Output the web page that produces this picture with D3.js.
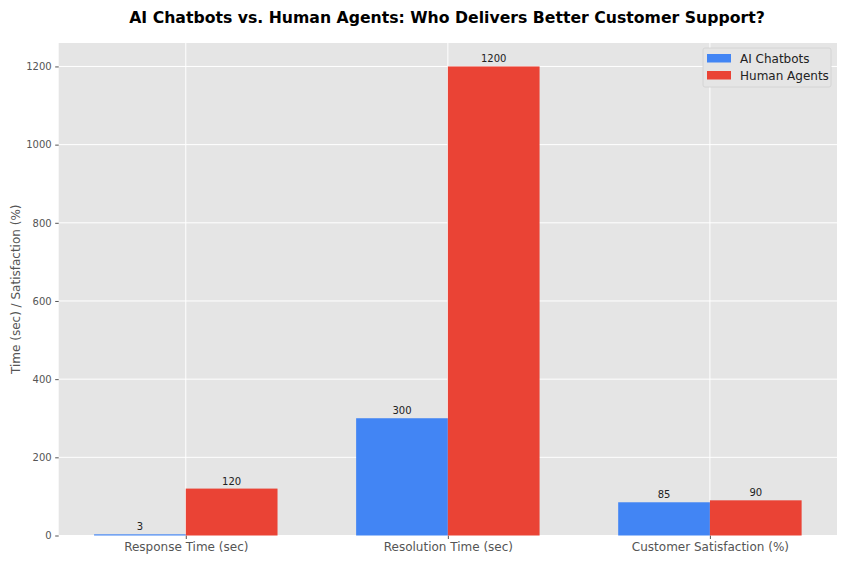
<!DOCTYPE html>
<html>
<head>
<meta charset="utf-8">
<script src="https://cdn.jsdelivr.net/npm/d3@7"></script>
<style>
  body { margin: 0; background: #fff; }
  text { font-family: "DejaVu Sans", sans-serif; }
</style>
</head>
<body>
<script>
const w = 848;
const h = 565;

const categories = ["Response Time (sec)", "Resolution Time (sec)", "Customer Satisfaction (%)"];
const seriesNames = ["AI Chatbots", "Human Agents"];
const aiValues = [3, 300, 85];
const humanValues = [120, 1200, 90];
const yTicks = [0, 200, 400, 600, 800, 1000, 1200];
const colours = ["#4285F4", "#EA4335"];

const plotLeft = 58.7, plotRight = 837, plotTop = 43, plotBottom = 535.5;
const barW = 0.35;

let svg = d3.select("body").append("svg")
  .attr("width", w)
  .attr("height", h);

// numeric x like matplotlib: 0,1,2 with 5% margins
let xScale = d3.scaleLinear()
  .domain([-0.485, 2.485])
  .range([plotLeft, plotRight]);

let yScale = d3.scaleLinear()
  .domain([0, 1260])
  .range([plotBottom, plotTop]);

svg.append("rect")
  .attr("x", plotLeft).attr("y", plotTop)
  .attr("width", plotRight - plotLeft).attr("height", plotBottom - plotTop)
  .attr("fill", "#E5E5E5");

// grid
svg.selectAll(".hgrid")
  .data(yTicks)
  .enter().append("line")
  .attr("x1", plotLeft).attr("x2", plotRight)
  .attr("y1", d => yScale(d)).attr("y2", d => yScale(d))
  .attr("stroke", "#fff").attr("stroke-width", 1);

svg.selectAll(".vgrid")
  .data(categories)
  .enter().append("line")
  .attr("x1", (d, i) => xScale(i)).attr("x2", (d, i) => xScale(i))
  .attr("y1", plotTop).attr("y2", plotBottom)
  .attr("stroke", "#fff").attr("stroke-width", 1);

// axes
let yAxis = svg.append("g")
  .attr("transform", "translate(" + plotLeft + ",0)")
  .call(d3.axisLeft(yScale).tickValues(yTicks).tickFormat(d3.format("d")).tickSize(3.5).tickPadding(3.5));
yAxis.select(".domain").remove();
yAxis.selectAll("line").attr("stroke", "#555");
yAxis.selectAll("text").attr("fill", "#555").style("font-size", "10px")
  .style("font-family", "DejaVu Sans, sans-serif");

let xAxis = svg.append("g")
  .attr("transform", "translate(0," + plotBottom + ")")
  .call(d3.axisBottom(xScale).tickValues([0, 1, 2]).tickFormat(i => categories[i]).tickSize(3.5).tickPadding(3));
xAxis.select(".domain").remove();
xAxis.selectAll("line").attr("stroke", "#555");
xAxis.selectAll("text").attr("fill", "#555").style("font-size", "12px")
  .style("font-family", "DejaVu Sans, sans-serif");

// bars
let series = [aiValues, humanValues];
series.forEach((vals, s) => {
  let off = s === 0 ? -barW / 2 : barW / 2;
  svg.selectAll(".bar" + s)
    .data(vals)
    .enter().append("rect")
    .attr("x", (d, i) => xScale(i + off - barW / 2))
    .attr("width", xScale(barW) - xScale(0))
    .attr("y", d => yScale(d))
    .attr("height", d => yScale(0) - yScale(d))
    .attr("fill", colours[s]);

  svg.selectAll(".lab" + s)
    .data(vals)
    .enter().append("text")
    .attr("x", (d, i) => xScale(i + off))
    .attr("y", d => yScale(d) - 4)
    .attr("text-anchor", "middle")
    .style("font-size", "10px")
    .attr("fill", "#222")
    .text(d => d);
});

// titles
svg.append("text")
  .attr("x", 447).attr("y", 23)
  .attr("text-anchor", "middle")
  .style("font-size", "15.7px")
  .style("font-weight", "bold")
  .text("AI Chatbots vs. Human Agents: Who Delivers Better Customer Support?");

svg.append("text")
  .attr("transform", "translate(20," + ((plotTop + plotBottom) / 2) + ") rotate(-90)")
  .attr("text-anchor", "middle")
  .style("font-size", "12px")
  .attr("fill", "#555")
  .text("Time (sec) / Satisfaction (%)");

// legend
let legend = svg.append("g");
legend.append("rect")
  .attr("x", 703).attr("y", 48).attr("width", 128).attr("height", 39)
  .attr("rx", 2)
  .attr("fill", "#E5E5E5").attr("stroke", "#d0d0d0").attr("stroke-width", 0.8);
seriesNames.forEach((name, i) => {
  legend.append("rect")
    .attr("x", 707).attr("y", 54 + i * 17).attr("width", 24).attr("height", 8.5)
    .attr("fill", colours[i]);
  legend.append("text")
    .attr("x", 740).attr("y", 62.5 + i * 17)
    .style("font-size", "12px")
    .attr("fill", "#222")
    .text(name);
});
</script>
</body>
</html>
